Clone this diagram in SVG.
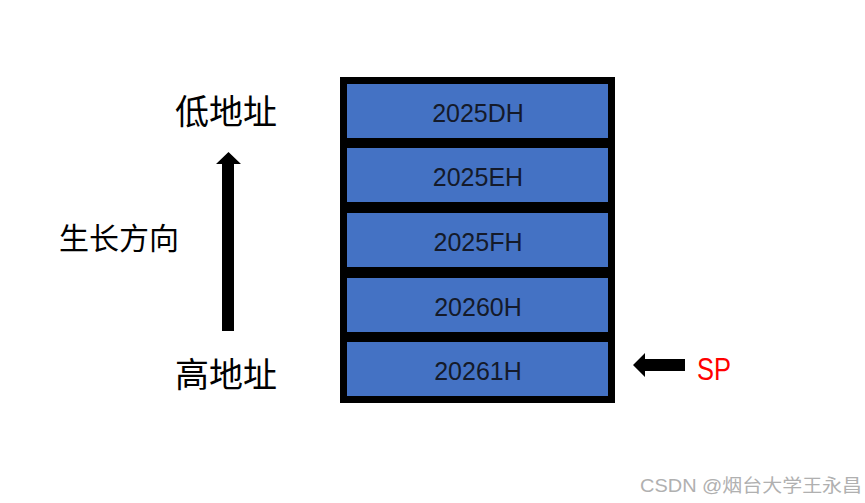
<svg xmlns="http://www.w3.org/2000/svg" width="865" height="503" viewBox="0 0 865 503">
<style>
.cell{fill:#4472c4;}
.lbl{font-family:"Liberation Sans","Noto Sans CJK SC",sans-serif;font-size:25px;fill:#141a2a;text-anchor:middle;}
.cn{font-family:"Noto Sans CJK SC",sans-serif;fill:#000;}
</style>
<rect x="0" y="0" width="865" height="503" fill="#fff"/>
<g id="stack">
<rect x="340" y="77" width="275" height="326" fill="#000"/>
</g>
<g id="cell1"><rect class="cell" x="347" y="84" width="261" height="54"/><text class="lbl" x="478" y="122">2025DH</text></g>
<g id="cell2"><rect class="cell" x="347" y="148" width="261" height="54"/><text class="lbl" x="478" y="186">2025EH</text></g>
<g id="cell3"><rect class="cell" x="347" y="213" width="261" height="54"/><text class="lbl" x="478" y="251">2025FH</text></g>
<g id="cell4"><rect class="cell" x="347" y="278" width="261" height="54"/><text class="lbl" x="478" y="316">20260H</text></g>
<g id="cell5"><rect class="cell" x="347" y="342" width="261" height="54"/><text class="lbl" x="478" y="380">20261H</text></g>
<g id="low"><text class="cn" x="175" y="124" font-size="34">低地址</text></g>
<g id="high"><text class="cn" x="175" y="387" font-size="34">高地址</text></g>
<g id="grow"><text class="cn" x="59" y="249" font-size="30">生长方向</text></g>
<g id="sp"><text x="697" y="380" font-family="Liberation Sans,sans-serif" font-size="32" fill="#ff0000" textLength="34" lengthAdjust="spacingAndGlyphs">SP</text></g>
<g id="connectors">
<polygon points="222,331 234,331 234,164 241,164 228.5,152 216,164 222,164" fill="#000"/>
<polygon points="685,359 685,371 645,371 645,377 633,365 645,353 645,359" fill="#000"/>
</g>
<text x="640" y="492" font-family="Liberation Sans,'Noto Sans CJK SC',sans-serif" font-size="18" fill="#b0b0b0" textLength="222" lengthAdjust="spacingAndGlyphs">CSDN @烟台大学王永昌</text>
</svg>
